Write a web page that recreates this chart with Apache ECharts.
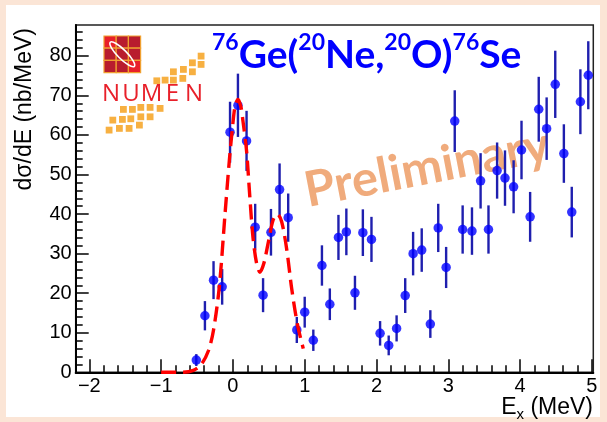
<!DOCTYPE html>
<html><head><meta charset="utf-8">
<script src="https://cdn.jsdelivr.net/npm/echarts@6/dist/echarts.min.js"></script>
<style>
html,body{margin:0;padding:0;background:#fbe5d6;}
#bg{position:absolute;left:6px;top:5px;width:594px;height:412px;background:#fff;}
#c{position:absolute;left:0;top:0;width:607px;height:422px;}
</style>
</head><body><div id="bg"></div><div id="c"></div>
<script>
// ---- data ----
const xTickValues = [-2, -1, 0, 1, 2, 3, 4, 5];
const yTickValues = [0, 10, 20, 30, 40, 50, 60, 70, 80];
const ex = [-0.51,-0.39,-0.27,-0.15,-0.04,0.07,0.19,0.31,0.42,0.53,0.65,0.77,0.89,1.00,1.12,1.24,1.35,1.47,1.58,1.70,1.81,1.93,2.05,2.17,2.28,2.40,2.51,2.63,2.75,2.86,2.97,3.09,3.20,3.33,3.45,3.56,3.68,3.79,3.91,4.02,4.14,4.26,4.37,4.49,4.61,4.72,4.84,4.95];
const xsec = [3.1,14.3,23.3,21.6,60.7,67.5,58.5,36.7,19.5,35.4,46.2,39.1,10.7,15.2,8.1,27.0,17.2,34.1,35.5,20.1,35.3,33.6,9.85,6.8,11.1,19.4,30.0,30.9,12.2,36.5,26.5,63.5,36.1,35.7,48.4,36.1,51.0,49.1,46.9,56.2,39.3,66.5,61.6,72.8,55.3,40.5,68.4,75.1];
const errs = [1.5,3.7,4.8,4.5,7.7,8.0,7.6,5.9,4.3,5.9,6.6,6.1,3.3,3.9,2.7,5.1,4.0,5.7,5.9,4.3,5.9,5.7,3.1,2.5,3.3,4.4,5.5,5.5,3.5,6.1,5.2,7.8,6.1,6.0,7.0,6.1,7.1,7.0,6.7,7.4,6.3,8.2,7.9,8.5,7.4,6.4,8.2,8.6];
const fitX = [-1.0,-0.7,-0.55,-0.44,-0.34,-0.27,-0.19,-0.11,-0.05,0.0,0.03,0.07,0.11,0.14,0.19,0.235,0.28,0.33,0.375,0.43,0.5,0.56,0.62,0.68,0.75,0.82,0.9,0.98];
const fitY = [0,0,0.5,2.0,5.5,10.7,21.5,40,53.5,63,67.3,69,67.2,63.5,56,44.5,34,27.5,25.3,27.5,33.5,38.5,40,38,31,21,12,6];
const titleText = '{s|76}{m|Ge(}{s|20}{m|Ne,}{s|20}{m|O)}{s|76}{m|Se}';
const yTitle = 'dσ/dE (nb/MeV)';
const watermark = 'Preliminary';

// ---- chart ----
const X_MIN = -2.19, X_MAX = 5.02, Y_MIN = 0, Y_MAX = 87.8;
const xMinor = []; for (let i = -10; i <= 25; i++) { const v = +(i * 0.2).toFixed(2); if (v > X_MIN && v < X_MAX && Math.abs(v - Math.round(v)) > 1e-6) xMinor.push(v); }
const yMinor = []; for (let v = 2; v < Y_MAX; v += 2) { if (v % 10 !== 0) yMinor.push(v); }
const fmtNum = v => (v < 0 ? '\u2212' + Math.abs(v) : String(v));
const lbl = { fontFamily: 'Liberation Sans', fontSize: 20, color: '#000' };

const chart = echarts.init(document.getElementById('c'), null, { renderer: 'canvas' });
const logo = [];
const cellFill = ['#e8202a','#b81c2e','#b81c2e','#b81c2e','#b81c2e','#b81c2e','#b81c2e','#b81c2e','#e8202a'];
for (let r = 0; r < 3; r++) for (let c = 0; c < 3; c++) {
  logo.push({ type: 'rect', shape: { x: 104 + c * 12.2, y: 36 + r * 12.2, width: 12.2, height: 12.2 },
    style: { fill: cellFill[r * 3 + c], stroke: '#f0a030', lineWidth: 1.2 }, z: 50 });
}
logo.push({ type: 'ellipse', shape: { cx: 0, cy: 0, rx: 17, ry: 4.5 }, x: 122.3, y: 54.3, rotation: -Math.PI / 4,
  style: { fill: 'none', stroke: '#fff', lineWidth: 1.6 }, z: 51 });
const letters = [['N', 111], ['U', 131], ['M', 151.5], ['E', 172.5], ['N', 194]];
letters.forEach(([t, x]) => logo.push({ type: 'text', x: x, y: 94.5, z: 51,
  style: { text: t, font: '24px "Open Sans"', fill: '#e8202a', align: 'center', verticalAlign: 'middle' } }));
const sq = [[201,56],[201,64.3],[192.3,62.7],[192.3,71.7],[183.3,69.3],[182.7,78.3],[173.3,71.7],[173.3,80],[165,80],[156.7,80.7],
  [123.3,109.3],[132.3,109.3],[140.7,107.3],[150,107.3],[160,108.3],[112.7,120],[122.3,119.3],[130.7,118.7],[140.7,116.7],[150,116.7],
  [109,130],[119.3,128.3],[129,128.3],[139.3,125]];
sq.forEach(([x, y]) => logo.push({ type: 'rect', shape: { x: x - 3.3, y: y - 3.3, width: 6.8, height: 6.8 }, style: { fill: '#f7b041' }, z: 50 }));

const option = {
  animation: false,
  backgroundColor: 'transparent',
  grid: { left: 75.7, right: 13.7, top: 25, bottom: 49.7, show: true, borderColor: '#222', borderWidth: 1.5,
          backgroundColor: 'transparent', containLabel: false, outerBoundsMode: 'none' },
  xAxis: [
    { type: 'value', min: X_MIN, max: X_MAX, position: 'bottom', splitLine: { show: false },
      axisLine: { show: true, onZero: false, lineStyle: { color: '#000', width: 2 } },
      axisTick: { show: true, inside: true, length: 13, customValues: xTickValues, lineStyle: { color: '#000', width: 1.5 } },
      axisLabel: Object.assign({ customValues: xTickValues, margin: 4, formatter: fmtNum }, lbl) },
    { type: 'value', min: X_MIN, max: X_MAX, position: 'bottom', splitLine: { show: false },
      axisLine: { show: false, onZero: false },
      axisTick: { show: true, inside: true, length: 7, customValues: xMinor, lineStyle: { color: '#000', width: 1.5 } },
      axisLabel: { show: false } }
  ],
  yAxis: [
    { type: 'value', min: Y_MIN, max: Y_MAX, position: 'left', splitLine: { show: false },
      axisLine: { show: true, onZero: false, lineStyle: { color: '#000', width: 2 } },
      axisTick: { show: true, inside: true, length: 13, customValues: yTickValues, lineStyle: { color: '#000', width: 1.5 } },
      axisLabel: Object.assign({ customValues: yTickValues, margin: 4 }, lbl) },
    { type: 'value', min: Y_MIN, max: Y_MAX, position: 'left', splitLine: { show: false },
      axisLine: { show: false, onZero: false },
      axisTick: { show: true, inside: true, length: 7, customValues: yMinor, lineStyle: { color: '#000', width: 1.5 } },
      axisLabel: { show: false } }
  ],
  graphic: [
    { type: 'text', x: 427, y: 168, rotation: 0.19, z: 1,
      style: { text: watermark, font: 'bold 49px Lato', fill: '#f0ab7c', align: 'center', verticalAlign: 'middle' } },
    { type: 'text', x: 212, y: 31, z: 60,
      style: { text: titleText, align: 'left', verticalAlign: 'top',
        rich: { m: { fontSize: 39, fontWeight: 'bold', fontFamily: 'Lato', fill: '#0000ff', lineHeight: 44, verticalAlign: 'bottom' },
                s: { fontSize: 23, fontWeight: 'bold', fontFamily: 'Lato', fill: '#0000ff', lineHeight: 23, verticalAlign: 'top' } } } },
    { type: 'text', x: 25, y: 28, rotation: Math.PI / 2, z: 60,
      style: { text: yTitle, font: '23px "Liberation Sans"', fill: '#000', align: 'right', verticalAlign: 'middle' } },
    { type: 'text', x: 593, y: 422, z: 60,
      style: { text: '{n|E}{s|x}{n| (MeV)}', align: 'right', verticalAlign: 'bottom',
        rich: { n: { fontSize: 23, fontFamily: 'Liberation Sans', fill: '#000', lineHeight: 26, verticalAlign: 'top' },
                s: { fontSize: 15, fontFamily: 'Liberation Sans', fill: '#000', lineHeight: 15, verticalAlign: 'bottom' } } } }
  ].concat(logo),
  series: [
    { type: 'custom', xAxisIndex: 0, yAxisIndex: 0, z: 3,
      data: ex.map((x, i) => [x, xsec[i], errs[i]]),
      encode: { x: 0, y: 1 },
      renderItem: function (params, api) {
        const x = api.value(0), y = api.value(1), e = api.value(2);
        const p1 = api.coord([x, Math.max(Y_MIN, y - e)]), p2 = api.coord([x, Math.min(Y_MAX, y + e)]);
        return { type: 'line', shape: { x1: p1[0], y1: p1[1], x2: p2[0], y2: p2[1] },
                 style: { stroke: '#1f1fae', lineWidth: 2.4 } };
      } },
    { type: 'scatter', xAxisIndex: 0, yAxisIndex: 0, z: 4, symbol: 'circle', symbolSize: 9.5,
      itemStyle: { color: '#0000ff' }, data: ex.map((x, i) => [x, xsec[i]]) },
    { type: 'line', xAxisIndex: 0, yAxisIndex: 0, z: 5, smooth: 0.3, showSymbol: false, symbol: 'none',
      lineStyle: { color: '#ff0000', width: 3.4, type: [15, 7] },
      data: fitX.map((x, i) => [x, fitY[i]]) }
  ]
};
chart.setOption(option);
</script>
</body></html>
